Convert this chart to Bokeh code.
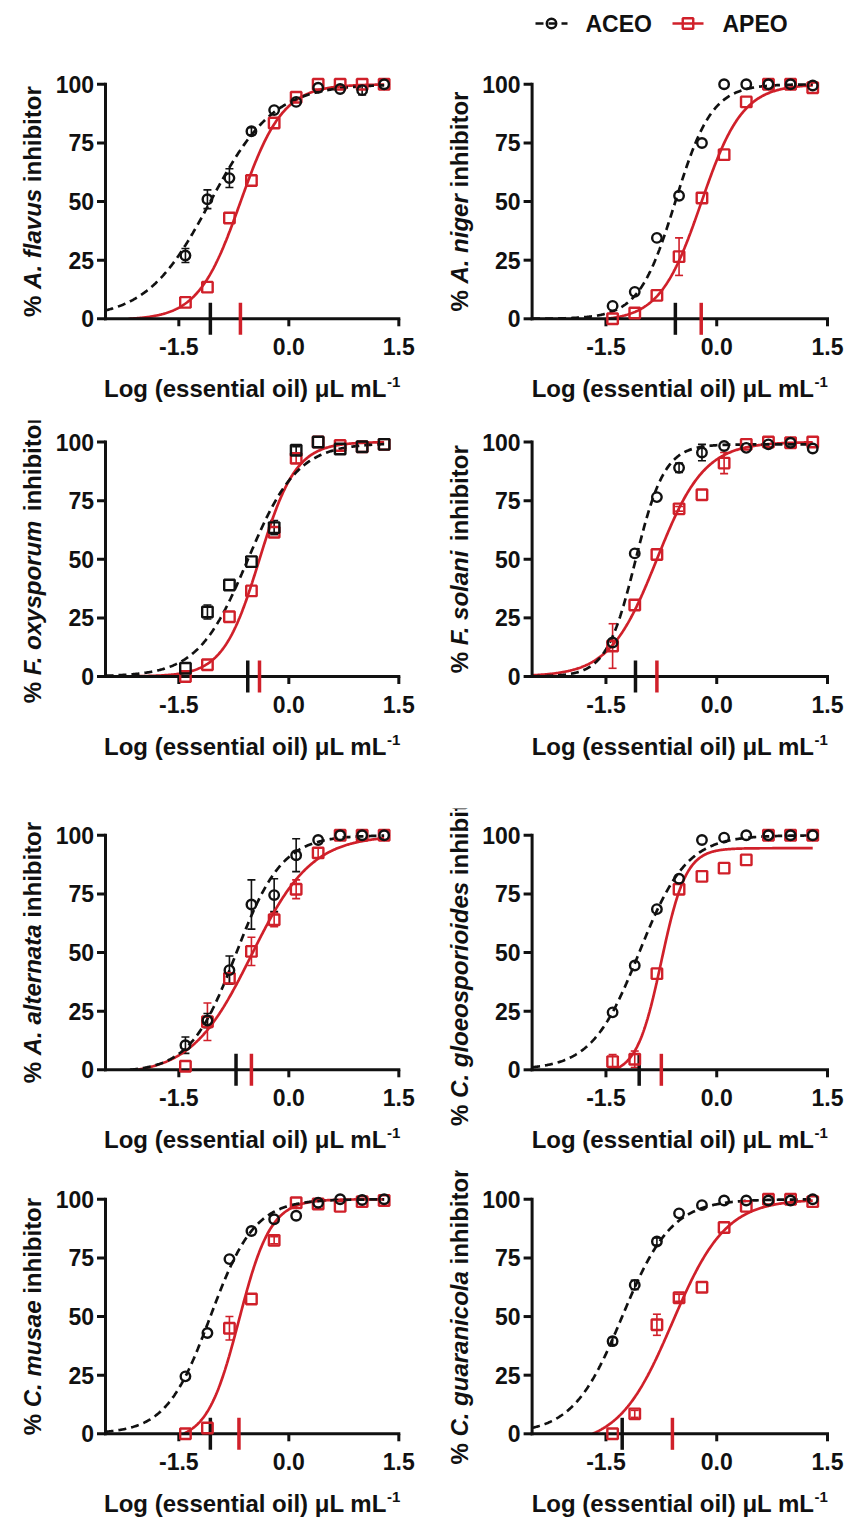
import math
import numpy as np
from bokeh.plotting import figure
from bokeh.models import Range1d, Whisker, TeeHead, ColumnDataSource
from bokeh.layouts import column, row
from bokeh.embed import file_html
from bokeh.resources import INLINE
from bokeh.core.properties import value

# ---------------- data ----------------
log_conc = [-1.41, -1.11, -0.81, -0.51, -0.20, 0.10, 0.40, 0.70, 1.00, 1.30]

species = ["A. flavus", "A. niger", "F. oxysporum", "F. solani",
           "A. alternata", "C. gloeosporioides", "C. musae", "C. guaranicola"]
aceo_marker = ["circle", "circle", "square", "circle", "circle", "circle", "circle", "circle"]

flavus_aceo = [27, 51, 60, 80, 89, 92.5, 98.5, 98, 97.5, 100]
flavus_aceo_sd = [3, 4, 4, 1.5, 0, 0, 0, 0, 2, 0]
flavus_apeo = [7, 13.5, 43, 59, 83.5, 94.5, 100, 100, 100, 100]
flavus_apeo_sd = [0, 0, 0, 0, 0, 0, 0, 0, 0, 0]

niger_aceo = [5.5, 11.5, 34.5, 52.5, 75, 100, 100, 100, 100, 99.5]
niger_aceo_sd = [0, 0, 0, 0, 0, 0, 0, 0, 0, 0]
niger_apeo = [0, 2.5, 10, 26.5, 51.5, 70, 92.5, 100, 100, 98.5]
niger_apeo_sd = [0, 0, 0, 8, 0, 0, 0, 0, 0, 0]

oxysporum_aceo = [3.5, 27.5, 39, 49, 63.5, 96.5, 100, 97, 98, 99]
oxysporum_aceo_sd = [0, 3, 0, 0, 3, 1.5, 0, 0, 0, 0]
oxysporum_apeo = [0, 5, 25.5, 36.5, 61.5, 93, 100, 98.5, 98, 99]
oxysporum_apeo_sd = [0, 0, 0, 0, 0, 2, 0, 0, 0, 0]

solani_aceo = [14.5, 52.5, 76.5, 89, 95.5, 98.3, 97.5, 99, 99.7, 97.2]
solani_aceo_sd = [0, 0, 0, 2, 3.5, 0, 0, 0, 0, 0]
solani_apeo = [13, 30.5, 52, 71.5, 77.5, 91, 99, 100, 99.7, 100]
solani_apeo_sd = [9.5, 0, 0, 1, 0, 4.5, 0, 0, 0, 0]

alternata_aceo = [10.5, 21, 42.5, 70.5, 74.5, 91.5, 98, 100, 100, 100]
alternata_aceo_sd = [3.5, 3, 6, 10.5, 7, 7, 0, 0, 0, 0]
alternata_apeo = [1.5, 20.5, 39, 50.5, 64, 77, 92.5, 100, 100, 100]
alternata_apeo_sd = [0, 8, 2, 6, 3, 4, 2, 0, 0, 0]

gloeo_aceo = [24.5, 44.5, 68.5, 81.5, 98, 99, 100, 100, 100, 100]
gloeo_aceo_sd = [0, 0, 0, 0, 0, 0, 0, 0, 0, 0]
gloeo_apeo = [3.5, 4.5, 41, 77, 82.5, 86, 89.5, 100, 100, 100]
gloeo_apeo_sd = [3, 3.5, 0, 0, 0, 0, 0, 0, 0, 0]

musae_aceo = [24.5, 43, 74.5, 86.5, 91.5, 93, 98.5, 100, 99.7, 100]
musae_aceo_sd = [0, 0, 0, 0, 0, 0, 0, 0, 0, 0]
musae_apeo = [0, 2.5, 45, 57.5, 82.5, 98.5, 98, 97, 99, 99.5]
musae_apeo_sd = [0, 0, 5, 0, 1.5, 0, 0, 0, 0, 0]

guaranicola_aceo = [39.5, 63.5, 82, 94, 97.5, 99.5, 99.5, 99.5, 99.5, 100]
guaranicola_aceo_sd = [1.5, 2, 1.5, 0, 0, 0, 0, 0, 0, 0]
guaranicola_apeo = [0, 8.5, 46.5, 58, 62.5, 88, 97, 100, 100, 99]
guaranicola_apeo_sd = [0, 1.5, 4.5, 1.5, 0, 0, 0, 0, 0, 0]

aceo_ic50 = [-1.07, -0.56, -0.56, -1.10, -0.72, -1.05, -1.07, -1.28]
aceo_hill = [1.0, 1.75, 1.28, 2.2, 1.38, 1.35, 1.44, 1.3]
aceo_top = [100, 100, 99.5, 99, 100, 100, 100, 100]
aceo_bottom = [0, 0, 0, 0, -1, 0, 0, 0]
apeo_ic50 = [-0.66, -0.21, -0.40, -0.81, -0.51, -0.75, -0.68, -0.60]
apeo_hill = [1.5, 1.55, 1.75, 1.35, 1.06, 2.6, 2.0, 1.2]
apeo_top = [100, 100, 100, 100, 100, 94.5, 100, 100]
apeo_bottom = [-0.5, -1, 0, 0, -2.2, -2, -3, -5]

x_ticks = [-1.5, 0.0, 1.5]
x_tick_labels = ["-1.5", "0.0", "1.5"]
y_ticks = [0, 25, 50, 75, 100]
y_tick_labels = ["0", "25", "50", "75", "100"]
x_title = "Log (essential oil) μL mL"
x_title_sup = "-1"
y_title_pre = "%"
y_title_post = "inhibitor"
series_names = ["ACEO", "APEO"]
x_min, x_max = -2.5, 1.5
curve_end = 1.30

aceo_series = [(flavus_aceo, flavus_aceo_sd), (niger_aceo, niger_aceo_sd),
               (oxysporum_aceo, oxysporum_aceo_sd), (solani_aceo, solani_aceo_sd),
               (alternata_aceo, alternata_aceo_sd), (gloeo_aceo, gloeo_aceo_sd),
               (musae_aceo, musae_aceo_sd), (guaranicola_aceo, guaranicola_aceo_sd)]
apeo_series = [(flavus_apeo, flavus_apeo_sd), (niger_apeo, niger_apeo_sd),
               (oxysporum_apeo, oxysporum_apeo_sd), (solani_apeo, solani_apeo_sd),
               (alternata_apeo, alternata_apeo_sd), (gloeo_apeo, gloeo_apeo_sd),
               (musae_apeo, musae_apeo_sd), (guaranicola_apeo, guaranicola_apeo_sd)]

# ---------------- styling / layout ----------------
FONT = "Liberation Sans"
BLACK = "#111111"
RED = "#d0202a"

W_BOLD = {' ': 278, '%': 889, '(': 333, ')': 333, '-': 333, '.': 278, '0': 556, '1': 556,
          'A': 722, 'C': 722, 'F': 611, 'L': 611, 'a': 556, 'b': 611, 'c': 556, 'd': 611,
          'e': 556, 'f': 333, 'g': 611, 'h': 611, 'i': 278, 'l': 278, 'm': 889, 'n': 611,
          'o': 611, 'p': 611, 'r': 389, 's': 556, 't': 333, 'u': 611, 'v': 556, 'x': 556,
          'y': 556, 'μ': 576}


def tw(s, size):
    return sum(W_BOLD.get(c, 556) for c in s) * size / 1000.0


col_w = [420, 425]
col_axis_px = [105.0, 111.6]     # y-axis position inside each figure
col_sx = [73.33, 73.85]          # px per log unit
row_h = [370, 388, 362, 349]
row_axis_px = [268.3, 256.0, 261.3, 263.3]  # y=0 position from figure top
PY = 2.345                       # px per % unit


def hill(xs, b, t, ic50, n):
    return b + (t - b) / (1.0 + 10.0 ** ((ic50 - xs) * n))


def txt(p, x, y, s, size, style="bold", align="left", angle=0.0):
    p.text(x=x, y=y, text=s, angle=angle, text_font=value(FONT), text_font_style=style,
           text_font_size=f"{size}px", text_color=BLACK, text_align=align, text_baseline="middle")


def make_panel(i):
    c, r = i % 2, i // 2
    W, H = col_w[c], row_h[r]
    sx, ax = col_sx[c], col_axis_px[c]
    p0 = row_axis_px[r]
    x_lo = x_min - ax / sx
    x_hi = x_lo + W / sx
    y_hi = p0 / PY
    y_lo = -(H - p0) / PY

    p = figure(width=W, height=H, x_range=Range1d(x_lo, x_hi), y_range=Range1d(y_lo, y_hi),
               output_backend="svg", toolbar_location=None, x_axis_type=None, y_axis_type=None,
               min_border=0, min_border_left=0, min_border_right=0,
               min_border_top=0, min_border_bottom=0)
    p.outline_line_color = None
    p.xgrid.grid_line_color = None
    p.ygrid.grid_line_color = None
    p.background_fill_color = "white"
    p.border_fill_color = "white"

    # fitted curves (hidden below the x axis)
    xs = np.linspace(x_min, curve_end, 400)
    yr = hill(xs, apeo_bottom[i], apeo_top[i], apeo_ic50[i], apeo_hill[i])
    yr = np.where(yr < 0, np.nan, yr)
    yk = hill(xs, aceo_bottom[i], aceo_top[i], aceo_ic50[i], aceo_hill[i])
    yk = np.where(yk < 0, np.nan, yk)
    p.line(xs, yr, line_color=RED, line_width=2.7)
    p.line(xs, yk, line_color=BLACK, line_width=2.7, line_dash="8 5")

    # axes lines and ticks
    p.segment(x0=[x_min], y0=[0], x1=[x_max], y1=[0], line_color=BLACK, line_width=3, line_cap="square")
    p.segment(x0=[x_min], y0=[0], x1=[x_min], y1=[100], line_color=BLACK, line_width=3, line_cap="square")
    p.segment(x0=x_ticks, y0=[0] * len(x_ticks), x1=x_ticks, y1=[-7.5 / PY] * len(x_ticks),
              line_color=BLACK, line_width=3)
    p.segment(x0=[x_min - 8.5 / sx] * len(y_ticks), y0=y_ticks, x1=[x_min] * len(y_ticks), y1=y_ticks,
              line_color=BLACK, line_width=3)

    # tick labels
    txt(p, x_ticks, [-28 / PY] * len(x_ticks), x_tick_labels, 23, align="center")
    txt(p, [x_min - 11.5 / sx] * len(y_ticks), y_ticks, y_tick_labels, 23, align="right")

    # IC50 marks
    p.segment(x0=[aceo_ic50[i]], y0=[16 / PY], x1=[aceo_ic50[i]], y1=[-16 / PY], line_color=BLACK, line_width=3.5)
    p.segment(x0=[apeo_ic50[i]], y0=[16 / PY], x1=[apeo_ic50[i]], y1=[-16 / PY], line_color=RED, line_width=3.5)

    # data points + error bars
    for (vals, sd), color, marker in [(apeo_series[i], RED, "square"),
                                      (aceo_series[i], BLACK, aceo_marker[i])]:
        size = 10.5 if marker == "square" else 9.5
        bx = [x for x, e in zip(log_conc, sd) if e > 0]
        if bx:
            up = [v + e for v, e in zip(vals, sd) if e > 0]
            lo = [v - e for v, e in zip(vals, sd) if e > 0]
            src = ColumnDataSource(dict(x=bx, u=up, l=lo))
            p.add_layout(Whisker(base="x", upper="u", lower="l", source=src,
                                 line_color=color, line_width=1.6,
                                 upper_head=TeeHead(size=8, line_color=color, line_width=1.6),
                                 lower_head=TeeHead(size=8, line_color=color, line_width=1.6)))
        p.scatter(log_conc, vals, marker=marker, size=size, fill_color=None,
                  line_color=color, line_width=2.4)

    # y title: "% <italic species> inhibitor", rotated
    fs = 24
    gap = tw(" ", fs)
    pieces = [(y_title_pre, "bold", gap), (species[i], "bold italic", gap), (y_title_post, "bold", 0)]
    total = sum(tw(s, fs) + g for s, _, g in pieces)
    pos_px = 50 * PY - total / 2
    xt = x_min - 73 / sx
    for s, style, g in pieces:
        txt(p, [xt], [pos_px / PY], [s], fs, style=style, align="left", angle=math.pi / 2)
        pos_px += tw(s, fs) + g

    # x title with superscript
    wm, ws = tw(x_title, fs), tw(x_title_sup, 15)
    start_px = ((x_min + x_max) / 2 - x_min) * sx - (wm + 1 + ws) / 2
    txt(p, [x_min + start_px / sx], [-70 / PY], [x_title], fs)
    txt(p, [x_min + (start_px + wm + 1) / sx], [-63.5 / PY], [x_title_sup], 15)
    return p


# ---------------- legend strip ----------------
leg = figure(width=845, height=50, x_range=Range1d(0, 845), y_range=Range1d(0, 50),
             output_backend="svg", toolbar_location=None, x_axis_type=None, y_axis_type=None,
             min_border=0, min_border_left=0, min_border_right=0, min_border_top=0, min_border_bottom=0)
leg.outline_line_color = None
leg.xgrid.grid_line_color = None
leg.ygrid.grid_line_color = None
ly = 27
leg.line([535, 567], [ly, ly], line_color=BLACK, line_width=2.7, line_dash="8 5")
leg.scatter([551], [ly], marker="circle", size=9.5, fill_color=None, line_color=BLACK, line_width=2.4)
leg.line([672, 703], [ly, ly], line_color=RED, line_width=2.7)
leg.scatter([687.5], [ly], marker="square", size=10.5, fill_color=None, line_color=RED, line_width=2.4)
txt(leg, [585, 722], [ly, ly], series_names, 23)

panels = [make_panel(i) for i in range(8)]
layout = column(leg,
                row(panels[0], panels[1]),
                row(panels[2], panels[3]),
                row(panels[4], panels[5]),
                row(panels[6], panels[7]))

open("out.html", "w").write(file_html(layout, INLINE))
